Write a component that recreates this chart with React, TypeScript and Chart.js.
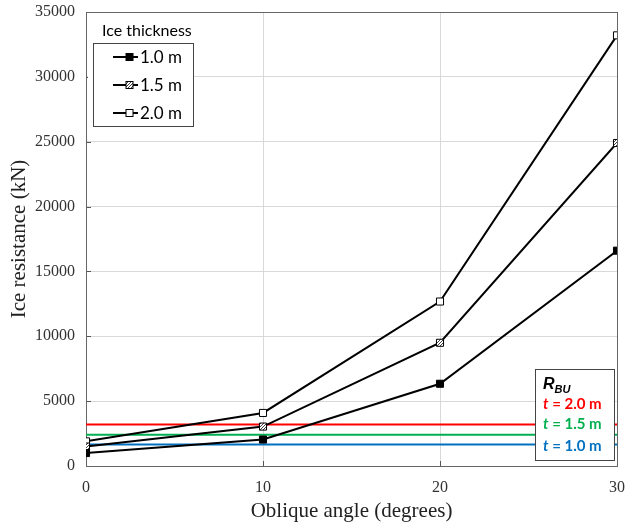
import React, { useEffect, useRef } from "react";
import { Chart, registerables } from "chart.js";

Chart.register(...registerables);

const angles = [0, 10, 20, 30];
const res10 = [1000, 2040, 6340, 16600];
const res15 = [1500, 3040, 9500, 24900];
const res20 = [1900, 4090, 12680, 33200];
const rbuLabels = ["t = 2.0 m", "t = 1.5 m", "t = 1.0 m"];
const rbuValues = [3200, 2400, 1650];
const rbuColors = ["#ff0000", "#00b050", "#0070c0"];
const seriesLabels = ["1.0 m", "1.5 m", "2.0 m"];
const yTicks = [0, 5000, 10000, 15000, 20000, 25000, 30000, 35000];
const xTicks = [0, 10, 20, 30];

function makeHatch(): CanvasPattern | string {
  const c = document.createElement("canvas");
  c.width = 3;
  c.height = 3;
  const g = c.getContext("2d");
  if (!g) return "#888";
  g.fillStyle = "#ffffff";
  g.fillRect(0, 0, 3, 3);
  g.fillStyle = "#444444";
  g.fillRect(2, 0, 1, 1);
  g.fillRect(1, 1, 1, 1);
  g.fillRect(0, 2, 1, 1);
  const p = g.createPattern(c, "repeat");
  return p || "#888";
}

export default function App() {
  const ref = useRef<HTMLCanvasElement | null>(null);

  useEffect(() => {
    if (!ref.current) return;
    const hatch = makeHatch();
    const fills: any[] = ["#000000", hatch, "#ffffff"];
    const seriesData = [res10, res15, res20];

    const framePlugin = {
      id: "frame",
      beforeDatasetsDraw(chart: any) {
        const { ctx, chartArea } = chart;
        const xs = chart.scales.x;
        const ys = chart.scales.y;
        ctx.save();
        ctx.strokeStyle = "#555555";
        ctx.lineWidth = 1;
        ctx.beginPath();
        yTicks.forEach((v) => {
          const py = Math.round(ys.getPixelForValue(v)) + 0.5;
          ctx.moveTo(chartArea.left, py);
          ctx.lineTo(chartArea.left + 5, py);
        });
        xTicks.forEach((v) => {
          const px = Math.round(xs.getPixelForValue(v)) + 0.5;
          ctx.moveTo(px, chartArea.bottom);
          ctx.lineTo(px, chartArea.bottom - 5);
        });
        ctx.stroke();
        ctx.strokeStyle = "#666666";
        ctx.strokeRect(
          Math.round(chartArea.left) + 0.5,
          Math.round(chartArea.top) + 0.5,
          Math.round(chartArea.right - chartArea.left),
          Math.round(chartArea.bottom - chartArea.top)
        );
        ctx.restore();
      },
      afterDatasetsDraw(chart: any) {
        const { ctx, chartArea } = chart;
        ctx.save();
        // Legend 1: Ice thickness
        ctx.fillStyle = "#ffffff";
        ctx.fillRect(Math.round(chartArea.left) + 2, Math.round(chartArea.top) + 2, 106, 112);
        ctx.fillStyle = "#000000";
        ctx.font = "16px Lato";
        ctx.textBaseline = "middle";
        ctx.textAlign = "left";
        ctx.fillText("Ice thickness", 102, 31);
        ctx.strokeStyle = "#444444";
        ctx.lineWidth = 1;
        ctx.strokeRect(93.5, 43.5, 100, 83);
        const rowY = [57, 85, 113];
        seriesLabels.forEach((lab, i) => {
          const y = rowY[i];
          ctx.strokeStyle = "#000000";
          ctx.lineWidth = 2;
          ctx.beginPath();
          ctx.moveTo(113, y);
          ctx.lineTo(138, y);
          ctx.stroke();
          ctx.fillStyle = fills[i];
          ctx.fillRect(126, y - 3.5, 7, 7);
          ctx.lineWidth = 1;
          ctx.strokeRect(126, y - 3.5, 7, 7);
          ctx.fillStyle = "#000000";
          ctx.font = "17px Lato";
          ctx.fillText(lab, 140, y + 1);
        });
        // Legend 2: R_BU
        ctx.fillStyle = "#ffffff";
        ctx.fillRect(535.5, 369.5, 79, 91);
        ctx.strokeStyle = "#444444";
        ctx.lineWidth = 1;
        ctx.strokeRect(535.5, 369.5, 79, 91);
        ctx.fillStyle = "#000000";
        ctx.font = "italic bold 16px 'Liberation Sans'";
        ctx.fillText("R", 543, 385);
        const rw = ctx.measureText("R").width;
        ctx.font = "italic bold 11px 'Liberation Sans'";
        ctx.fillText("BU", 543 + rw, 390);
        const ry = [404, 424, 446];
        rbuLabels.forEach((lab, i) => {
          ctx.fillStyle = rbuColors[i];
          const parts = lab.split(" ");
          ctx.font = "italic bold 15px Lato";
          ctx.fillText(parts[0], 543, ry[i]);
          const w0 = ctx.measureText(parts[0]).width;
          ctx.font = "bold 15px Lato";
          ctx.fillText(" " + parts.slice(1).join(" "), 543 + w0, ry[i]);
        });
        ctx.restore();
      },
    };

    const blackSets = seriesData.map((d, i) => ({
      label: seriesLabels[i],
      data: angles.map((a, j) => ({ x: a, y: d[j] })),
      borderColor: "#000000",
      borderWidth: 2,
      pointStyle: "rect",
      pointRadius: 5,
      pointBorderWidth: 1,
      pointBorderColor: "#000000",
      pointBackgroundColor: fills[i],
      order: 0,
    }));
    const rbuSets = rbuValues.map((v, i) => ({
      label: rbuLabels[i],
      data: [
        { x: angles[0], y: v },
        { x: angles[angles.length - 1], y: v },
      ],
      borderColor: rbuColors[i],
      borderWidth: 2,
      pointRadius: 0,
      order: 1,
    }));

    const chart = new Chart(ref.current, {
      type: "line",
      data: { datasets: [...blackSets, ...rbuSets] as any },
      options: {
        animation: false,
        responsive: false,
        maintainAspectRatio: false,
        layout: { padding: { top: 12, right: 8, left: 0, bottom: 0 } },
        plugins: { legend: { display: false }, tooltip: { enabled: false } },
        scales: {
          x: {
            type: "linear",
            min: 0,
            max: 30,
            afterBuildTicks: (s: any) => {
              s.ticks = xTicks.map((v) => ({ value: v }));
            },
            ticks: {
              padding: 12,
              color: "#333333",
              font: { family: "'Liberation Serif'", size: 16 },
              callback: (v: any) => String(v),
            },
            grid: { color: "#d9d9d9", drawTicks: false },
            border: { color: "#555555" },
            title: {
              display: true,
              text: "Oblique angle (degrees)",
              color: "#222222",
              font: { family: "'Liberation Serif'", size: 21 },
              padding: { top: 0, bottom: 2 },
            },
            afterFit: (s: any) => {
              s.height = 60;
              s.paddingLeft = 0;
              s.paddingRight = 0;
            },
          },
          y: {
            type: "linear",
            min: 0,
            max: 35000,
            afterBuildTicks: (s: any) => {
              s.ticks = yTicks.map((v) => ({ value: v }));
            },
            ticks: {
              padding: 11,
              color: "#333333",
              font: { family: "'Liberation Serif'", size: 16 },
              callback: (v: any) => String(v),
            },
            grid: { color: "#d9d9d9", drawTicks: false },
            border: { color: "#555555" },
            title: {
              display: true,
              text: "Ice resistance (kN)",
              color: "#222222",
              font: { family: "'Liberation Serif'", size: 21 },
              padding: { top: 7, bottom: 0 },
            },
            afterFit: (s: any) => {
              s.width = 86;
              s.paddingTop = 0;
              s.paddingBottom = 0;
            },
          },
        },
      },
      plugins: [framePlugin],
    });
    return () => chart.destroy();
  }, []);

  return (
    <div
      style={{
        position: "fixed",
        left: 0,
        top: 0,
        width: 625,
        height: 526,
        background: "#ffffff",
      }}
    >
      <canvas ref={ref} width={625} height={526} style={{ display: "block" }} />
    </div>
  );
}
